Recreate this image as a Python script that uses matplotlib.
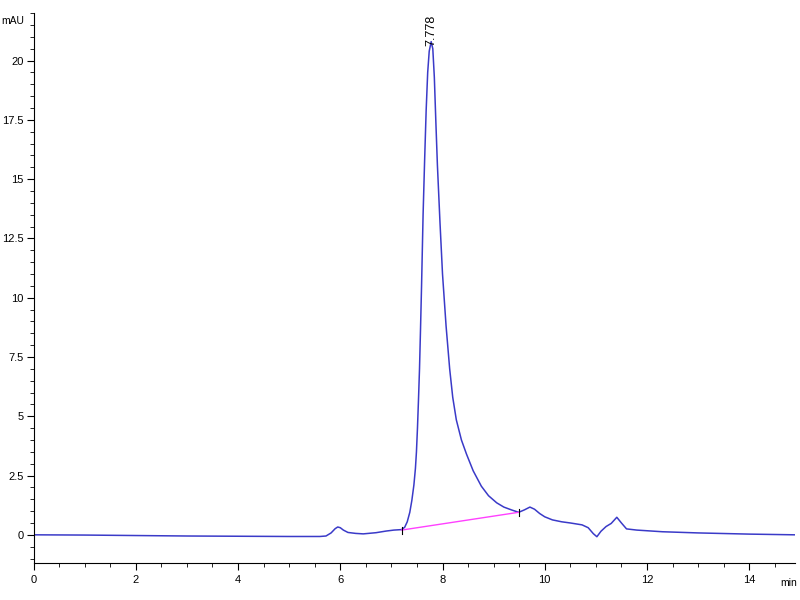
import numpy as np
import matplotlib.pyplot as plt
from matplotlib.ticker import MultipleLocator, FormatStrFormatter

plt.rcParams['font.family'] = ['Liberation Sans', 'DejaVu Sans']

# chromatogram trace (min, mAU)
time_min = [0.0, 1.0, 2.0, 3.0, 4.0, 5.0, 5.6, 5.72, 5.82, 5.9, 5.95, 6.0, 6.06,
            6.15, 6.3, 6.45, 6.7, 6.9, 7.05, 7.2, 7.26, 7.31, 7.36, 7.40, 7.44,
            7.47, 7.49, 7.51, 7.53, 7.55, 7.57, 7.59, 7.62, 7.65, 7.68, 7.71,
            7.74, 7.778, 7.81, 7.84, 7.87, 7.90, 7.95, 8.0, 8.07, 8.14, 8.2,
            8.27, 8.37, 8.47, 8.6, 8.76, 8.9, 9.06, 9.2, 9.35, 9.49, 9.6, 9.71,
            9.8, 9.9, 10.0, 10.15, 10.33, 10.5, 10.73, 10.85, 10.95, 11.02,
            11.1, 11.2, 11.3, 11.41, 11.5, 11.6, 11.8, 12.3, 13.0, 14.0, 14.9]
signal = [0.0, -0.01, -0.03, -0.05, -0.06, -0.07, -0.07, -0.05, 0.08, 0.26, 0.33,
          0.3, 0.2, 0.1, 0.06, 0.04, 0.09, 0.16, 0.2, 0.22, 0.32, 0.55, 0.95,
          1.45, 2.1, 2.8, 3.5, 4.5, 5.7, 7.0, 8.7, 10.5, 13.5, 15.8, 17.9,
          19.5, 20.4, 20.8, 20.5, 19.3, 17.4, 15.6, 13.2, 11.0, 8.8, 7.0, 5.8,
          4.85, 4.0, 3.4, 2.7, 2.05, 1.65, 1.35, 1.17, 1.05, 0.95, 1.05, 1.17,
          1.08, 0.9, 0.76, 0.63, 0.55, 0.5, 0.42, 0.3, 0.05, -0.08, 0.15, 0.35,
          0.48, 0.74, 0.5, 0.25, 0.2, 0.13, 0.08, 0.03, 0.0]

# integration baseline of the main peak
base_t = [7.2, 9.49]
base_y = [0.2, 0.95]
peak_rt = 7.778
peak_h = 20.8

fig = plt.figure(figsize=(8, 6), dpi=100)
ax = fig.add_axes([0.042, 0.062, 0.952, 0.916])

ax.plot(time_min, signal, color='#3a3ac8', lw=1.1)
ax.plot(base_t, base_y, color='#ff40ff', lw=1.0)
for t, y in zip(base_t, base_y):
    ax.plot([t, t], [y - 0.15, y + 0.15], color='black', lw=0.8)

ax.text(peak_rt, peak_h - 0.2, f'{peak_rt:.3f}', rotation=90, ha='left',
        va='center', fontsize=9, rotation_mode='anchor')

ax.set_xlim(0, 14.9)
ax.set_ylim(-1.18, 22.0)
ax.spines['top'].set_visible(False)
ax.spines['right'].set_visible(False)

ax.xaxis.set_major_locator(MultipleLocator(2))
ax.xaxis.set_minor_locator(MultipleLocator(0.5))
ax.yaxis.set_major_locator(MultipleLocator(2.5))
ax.yaxis.set_minor_locator(MultipleLocator(0.5))
ax.yaxis.set_major_formatter(FormatStrFormatter('%g'))
ax.tick_params(which='major', length=5, labelsize=8)
ax.tick_params(axis='y', which='major', pad=2)
ax.tick_params(which='minor', length=3)

fig.text(0.001, 0.965, 'mAU', fontsize=7.5, ha='left', va='center')
fig.text(0.996, 0.028, 'min', fontsize=7.5, ha='right', va='center')

fig.savefig('out.png', dpi=100)
